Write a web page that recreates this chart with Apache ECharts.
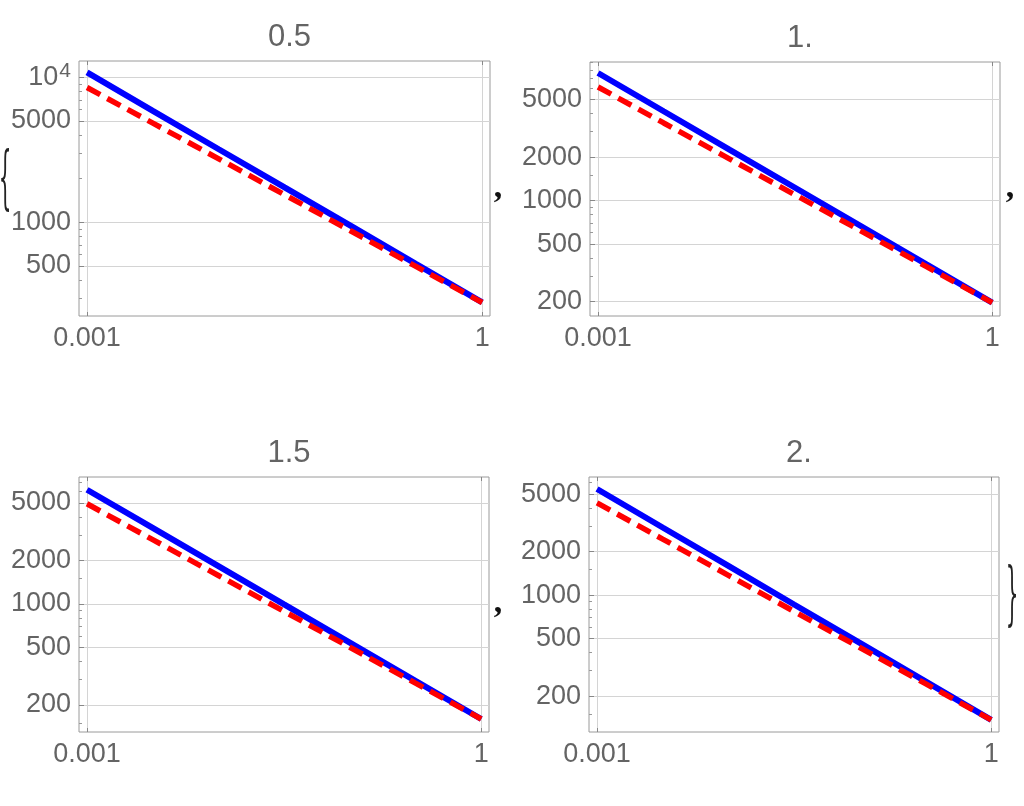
<!DOCTYPE html>
<html><head><meta charset="utf-8">
<script src="https://cdn.jsdelivr.net/npm/echarts@6/dist/echarts.min.js"></script>
<style>html,body{margin:0;padding:0;background:#fff}#c{width:1024px;height:806px}</style>
</head><body><div id="c"></div>
<script>
// ---- data ----
const xValues = [0.001, 0.00316, 0.01, 0.0316, 0.1, 0.316, 1];
const panelTitles = ['0.5', '1.', '1.5', '2.'];
const blue05 = [10800, 5860, 3190, 1740, 950, 515, 281];
const red05  = [8500, 4830, 2740, 1550, 875, 495, 280];
const blue10 = [7640, 4150, 2255, 1227, 667, 362, 197];
const red10  = [6110, 3445, 1945, 1096, 618, 349, 197];
const blue15 = [6180, 3365, 1830, 995, 541, 294, 160];
const red15  = [4940, 2790, 1575, 889, 502, 283, 160];
const blue20 = [5420, 2935, 1592, 861, 467, 253, 137];
const red20  = [4340, 2440, 1371, 771, 434, 244, 137];
const blueSeries = [blue05, blue10, blue15, blue20];
const redSeries = [red05, red10, red15, red20];
const xTickValues = [0.001, 1];
const xRange = [0.000869, 1.146];
const yTickValues = [
  [500, 1000, 5000, 10000],
  [200, 500, 1000, 2000, 5000],
  [200, 500, 1000, 2000, 5000],
  [200, 500, 1000, 2000, 5000]
];
const yMinorValues = [
  [300, 400, 600, 700, 800, 900, 2000, 3000, 4000, 6000, 7000, 8000, 9000],
  [300, 400, 600, 700, 800, 900, 1500, 3000, 4000, 6000, 7000, 8000, 9000],
  [150, 300, 400, 600, 700, 800, 900, 1500, 3000, 4000, 6000, 7000],
  [150, 300, 400, 600, 700, 800, 900, 1500, 3000, 4000, 6000]
];
const yRanges = [[226, 12950], [159, 9100], [130, 7570], [113, 6560]];

// ---- layout / style ----
const layouts = [
  {left: 79, top: 61, width: 411, height: 255},
  {left: 590, top: 62, width: 410, height: 254},
  {left: 79, top: 477, width: 410, height: 255},
  {left: 589, top: 477, width: 410, height: 255}
];
const FONT = '"Liberation Sans", Arial, sans-serif';
const LABEL = '#646464';
const FRAME = '#9a9a9a';
const GRID = '#d4d4d4';

const grid = [], xAxis = [], yAxis = [], series = [], title = [];
layouts.forEach((L, i) => {
  grid.push(Object.assign({show: true, borderColor: FRAME, borderWidth: 1, containLabel: false}, L));
  title.push({
    text: panelTitles[i], left: L.left + L.width / 2, top: L.top - 29,
    textAlign: 'center', textVerticalAlign: 'middle',
    textStyle: {fontFamily: FONT, fontSize: 31, fontWeight: 'normal', color: LABEL}
  });
  xAxis.push({
    type: 'log', gridIndex: i, min: xRange[0], max: xRange[1], position: 'bottom',
    axisLine: {show: false},
    axisTick: {show: true, inside: true, length: 4, customValues: xTickValues, lineStyle: {color: '#888'}},
    axisLabel: {show: true, customValues: xTickValues, margin: 9, fontFamily: FONT, fontSize: 27, color: LABEL,
      formatter: v => (v === 1 ? '1' : String(v))},
    splitLine: {show: true, lineStyle: {color: GRID, width: 1}}
  });
  xAxis.push({
    type: 'log', gridIndex: i, min: xRange[0], max: xRange[1], position: 'top',
    axisLine: {show: false},
    axisTick: {show: true, inside: true, length: 4, customValues: xTickValues, lineStyle: {color: '#888'}},
    axisLabel: {show: false}, splitLine: {show: false}
  });
  yAxis.push({
    type: 'log', gridIndex: i, min: yRanges[i][0], max: yRanges[i][1], position: 'left',
    axisLine: {show: false},
    axisTick: {show: true, inside: true, length: 5, customValues: yTickValues[i], lineStyle: {color: '#888'}},
    axisLabel: {show: true, customValues: yTickValues[i], margin: 8, fontFamily: FONT, fontSize: 27, color: LABEL,
      formatter: v => (v === 10000 ? '{b|10}{s|4}' : String(v)),
      rich: {
        b: {fontFamily: FONT, fontSize: 27, color: LABEL},
        s: {fontFamily: FONT, fontSize: 21, color: LABEL, verticalAlign: 'top', padding: [0, 0, 12, 1]}
      }},
    splitLine: {show: true, lineStyle: {color: GRID, width: 1}}
  });
  yAxis.push({
    type: 'log', gridIndex: i, min: yRanges[i][0], max: yRanges[i][1], position: 'left',
    axisLine: {show: false},
    axisTick: {show: true, inside: true, length: 3, customValues: yMinorValues[i], lineStyle: {color: '#999'}},
    axisLabel: {show: false}, splitLine: {show: false}
  });
  series.push({
    type: 'line', xAxisIndex: 2 * i, yAxisIndex: 2 * i, showSymbol: false, smooth: false,
    data: xValues.map((x, k) => [x, blueSeries[i][k]]),
    lineStyle: {color: '#0000ff', width: 6}, z: 2, silent: true
  });
  series.push({
    type: 'line', xAxisIndex: 2 * i, yAxisIndex: 2 * i, showSymbol: false, smooth: false,
    data: xValues.map((x, k) => [x, redSeries[i][k]]),
    lineStyle: {color: '#ff0000', width: 5.5, type: [15, 8], cap: 'butt'}, z: 3, silent: true
  });
});

const punct = (t, x, y) => ({
  type: 'text', x: x, y: y,
  style: {text: t, fontFamily: '"Liberation Serif", serif', fontWeight: 'bold', fontSize: 34, fill: '#111',
    align: 'center', verticalAlign: 'middle'}
});
const brace = (t, x, y) => ({
  type: 'text', x: x, y: y, scaleY: 3.5,
  style: {text: t, fontFamily: '"DejaVu Serif", serif', fontSize: 20, fill: '#222',
    align: 'center', verticalAlign: 'middle'}
});

const chart = echarts.init(document.getElementById('c'), null, {renderer: 'canvas'});
chart.setOption({
  animation: false,
  backgroundColor: '#ffffff',
  title, grid, xAxis, yAxis, series,
  graphic: [
    punct(',', 498, 188), punct(',', 1010, 188), punct(',', 498, 603),
    brace('{', 5, 183), brace('}', 1012, 599)
  ]
});
</script>
</body></html>
